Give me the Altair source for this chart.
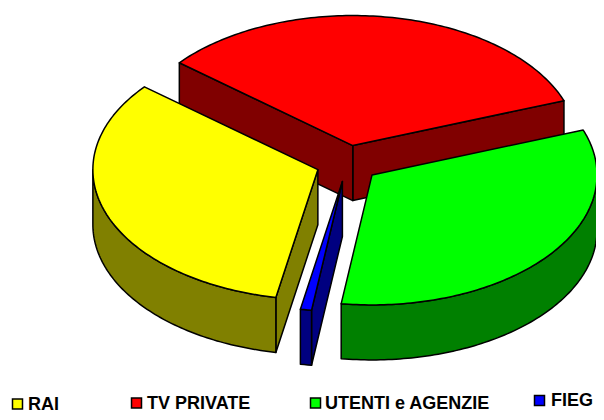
import math
import altair as alt

# Data, in the order the slices run counter-clockwise from the right-hand cut
names = ["TV PRIVATE", "RAI", "FIEG", "UTENTI e AGENZIE"]
shares = [33.4, 33.0, 0.8, 32.8]
top_colors = ["#ff0000", "#ffff00", "#0000ff", "#00ff00"]
side_colors = ["#800000", "#808000", "#000080", "#008000"]

# Pie geometry (page pixels)
START = 20.2
RX, RY, DEPTH = 225, 130, 55
CX, CY = 347.5, 163.5
EXPLODE = 0.14
OX, OY = 8, 8
draw_order = ["TV PRIVATE", "FIEG", "RAI", "UTENTI e AGENZIE"]


def pt(cx, cy, deg, dz=0):
    t = math.radians(deg)
    return [cx + RX * math.cos(t) - OX, cy - RY * math.sin(t) + dz - OY]


def arc(cx, cy, a, b, dz=0):
    n = max(2, int(abs(b - a)) + 1)
    return [pt(cx, cy, a + (b - a) * i / n, dz) for i in range(n + 1)]


def feature(poly, key):
    return {
        "type": "Feature",
        "geometry": {"type": "Polygon", "coordinates": [poly + [poly[0]]]},
        "properties": {"key": key},
    }


spans = {}
angle = START
for name, share in zip(names, shares):
    spans[name] = (angle, angle + share * 3.6)
    angle += share * 3.6

features = []
for name in draw_order:
    a, b = spans[name]
    mid = math.radians((a + b) / 2)
    cx = CX + EXPLODE * RX * math.cos(mid)
    cy = CY - EXPLODE * RY * math.sin(mid)
    apex = [cx - OX, cy - OY]
    apex_low = [cx - OX, cy - OY + DEPTH]
    # cut faces that turn towards the viewer
    for edge, normal in ((a, a - 90), (b, b + 90)):
        if math.sin(math.radians(normal)) < 0:
            features.append(feature(
                [apex, pt(cx, cy, edge), pt(cx, cy, edge, DEPTH), apex_low],
                name + " side"))
    # outer wall of the front half
    for k in (0, 360):
        lo, hi = max(a, 180 + k), min(b, 360 + k)
        if hi > lo:
            features.append(feature(
                arc(cx, cy, lo, hi) + arc(cx, cy, hi, lo, DEPTH),
                name + " side"))
    features.append(feature([apex] + arc(cx, cy, a, b), name + " top"))

domain = [n + " top" for n in names] + [n + " side" for n in names]
palette = top_colors + side_colors

pie = alt.Chart(alt.Data(values=features)).mark_geoshape(
    stroke="#000000", strokeWidth=1.5, strokeJoin="round"
).encode(
    color=alt.Color("properties.key:N", legend=None,
                    scale=alt.Scale(domain=domain, range=palette))
).project(type="identity", scale=1, translate=[0, 0])

legend_pos = {
    "RAI": (17.5, 404, 28, 409.5),
    "TV PRIVATE": (136.5, 403, 147, 408.5),
    "UTENTI e AGENZIE": (315.5, 403, 325, 408.5),
    "FIEG": (539.5, 400.5, 551, 406),
}

layers = [pie]
for name, top in zip(names, top_colors):
    sx, sy, tx, ty = legend_pos[name]
    row = alt.Data(values=[{"name": name}])
    layers.append(alt.Chart(row).mark_square(
        size=100, fill=top, stroke="#000000", strokeWidth=1.5, opacity=1
    ).encode(x=alt.value(sx - OX), y=alt.value(sy - OY)))
    layers.append(alt.Chart(row).mark_text(
        font="Liberation Sans", fontWeight="bold", fontSize=18,
        align="left", baseline="alphabetic", color="#000000"
    ).encode(text="name:N", x=alt.value(tx - OX), y=alt.value(ty - OY)))

chart = alt.layer(*layers).properties(
    width=588, height=404, padding=0,
    autosize=alt.AutoSizeParams(type="none"),
).configure_view(stroke=None)

chart.save("out.html", embed_options={"renderer": "svg", "actions": False})
